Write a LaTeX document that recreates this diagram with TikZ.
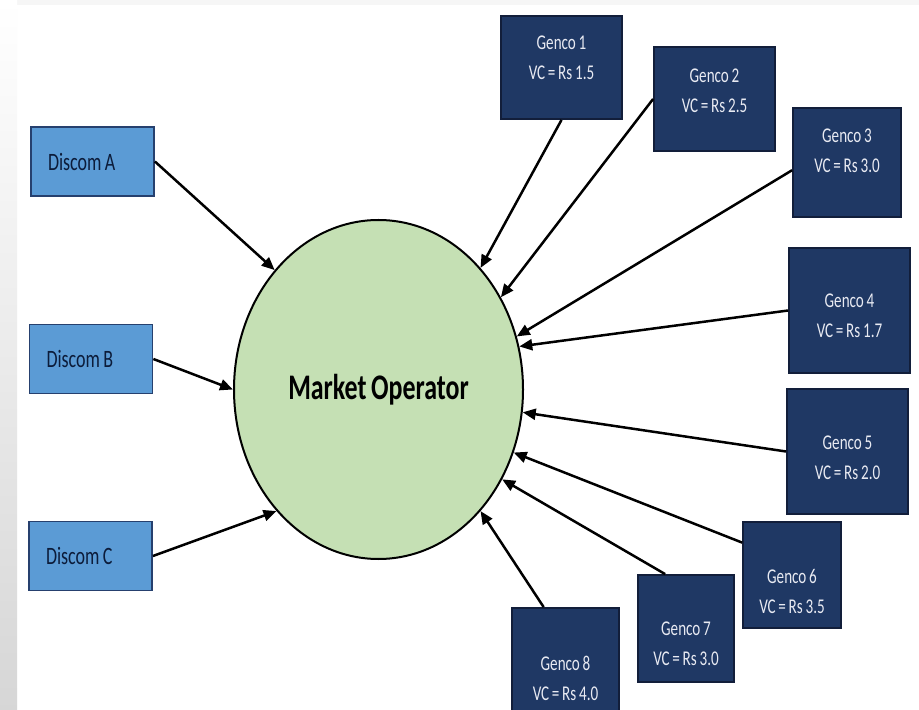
\documentclass[tikz,border=0pt]{standalone}
\usepackage{fontspec}
\setmainfont{Carlito}[FakeStretch=0.72, WordSpace=0.8]
\usepackage{tikz}
\usetikzlibrary{arrows.meta, shapes.geometric}
\definecolor{discomfill}{RGB}{91, 155, 213}
\definecolor{discomline}{RGB}{38, 64, 110}
\definecolor{discomtext}{RGB}{12, 28, 58}
\definecolor{gencofill}{RGB}{31, 56, 100}
\definecolor{gencoline}{RGB}{18, 30, 58}
\definecolor{gencotext}{RGB}{232, 234, 242}
\definecolor{mofill}{RGB}{197, 224, 180}
\tikzset{
  discom/.style={draw=discomline, fill=discomfill, line width=0.9pt,
    text=discomtext, font=\fontsize{12.5}{14}\selectfont, align=flush left,
    minimum height=34.5pt, text width=44.5pt, inner xsep=8.5pt},
  gencobox/.style={draw=gencoline, fill=gencofill, line width=0.9pt,
    inner sep=0pt},
  gencotext/.style={text=gencotext, font=\fontsize{10.5}{15}\selectfont,
    align=center, inner sep=0pt},
  market/.style={ellipse, draw=black, fill=mofill, line width=1pt,
    minimum width=144.5pt, minimum height=169.5pt,
    font=\fontsize{18}{20}\selectfont\bfseries},
  bid/.style={draw=black, line width=1.25pt,
    -{Triangle[length=6.5pt, width=5.5pt]}}
}
\newcommand{\gencobox}[6]{
  \node[gencobox, minimum width=#3*0.5pt, minimum height=#4*0.5pt] (#1) at (#2) {};
  \node[gencotext] (#1t) at ([yshift=#5*0.5pt]#1.center) {#6};
}
\begin{document}
\begin{tikzpicture}[x=0.5pt, y=-0.5pt]
  \useasboundingbox (0, 0) rectangle (919, 710);
  \clip (0, 0) rectangle (919, 710);

  % Background
  \fill[white] (0, 0) rectangle (919, 710);
  \fill[gray!7] (0, 0) rectangle (919, 5);
  \shade[top color=white, bottom color=gray!32] (0, 0) rectangle (17, 710);

  % Market operator
  \node[market] (mo) at (378.5, 389.5) {Market Operator};

  % Discoms
  \node[discom] (da) at (92.5, 161.5) {Discom A};
  \node[discom] (db) at (91, 359) {Discom B};
  \node[discom] (dc) at (90.5, 556) {Discom C};

  % Gencos: name, centre, width, height, text shift
  \gencobox{g1}{561.5, 67.5}{121}{103}{9.5}{Genco 1\\VC = Rs 1.5}
  \gencobox{g2}{714.5, 99}{121}{104}{8}{Genco 2\\VC = Rs 2.5}
  \gencobox{g3}{847, 162.5}{108}{109}{11.5}{Genco 3\\VC = Rs 3.0}
  \gencobox{g4}{849.5, 310.5}{121}{125}{-5.5}{Genco 4\\VC = Rs 1.7}
  \gencobox{g5}{847.5, 451.5}{121}{125}{-6.5}{Genco 5\\VC = Rs 2.0}
  \gencobox{g6}{792, 575}{98}{106}{-16}{Genco 6\\VC = Rs 3.5}
  \gencobox{g7}{686, 628.5}{96}{107}{-15.5}{Genco 7\\VC = Rs 3.0}
  \gencobox{g8}{565.5, 664}{107}{112}{-14}{Genco 8\\VC = Rs 4.0}

  % Bids into the market
  \draw[bid] (da.east) -- (mo.131);
  \draw[bid] (db.east) -- (mo.180);
  \draw[bid] (dc.east) -- (mo.230);

  \draw[bid] (g1.south) -- (mo.50);
  \draw[bid] (g2.west) -- (mo.37);
  \draw[bid] (g3.188) -- (mo.21);
  \draw[bid] (g4.west) -- (mo.17);
  \draw[bid] (g5.west) -- (mo.-9);
  \draw[bid] (g6.147) -- (mo.-25);
  \draw[bid] (g7.111) -- (mo.-36);
  \draw[bid] (g8.111) -- (mo.-50);
\end{tikzpicture}
\end{document}
